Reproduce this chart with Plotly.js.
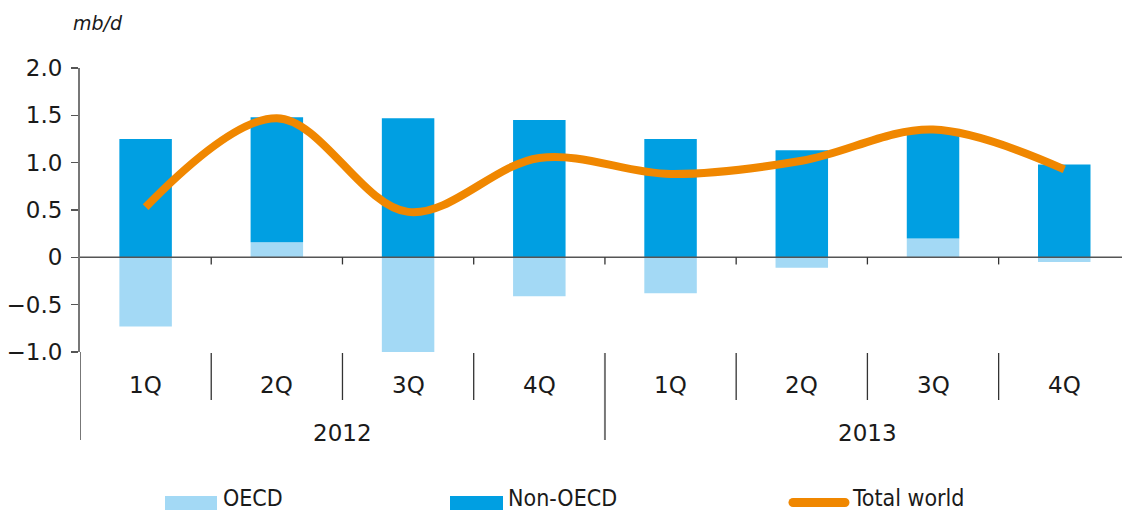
<!DOCTYPE html>
<html>
<head>
<meta charset="utf-8">
<script src="https://cdn.plot.ly/plotly-3.0.1.min.js"></script>
<style>html,body{margin:0;padding:0;background:#fff;}#chart{width:1122px;height:514px;}</style>
</head>
<body>
<div id="chart"></div>
<script>
// ---- data ----
const quarters = ['1Q','2Q','3Q','4Q','1Q','2Q','3Q','4Q'];
const years = ['2012','2013'];
const oecd = [-0.73, 0.16, -1.00, -0.41, -0.38, -0.11, 0.20, -0.05];
const nonOecd = [1.25, 1.32, 1.47, 1.45, 1.25, 1.13, 1.14, 0.98];
const totalWorld = [0.53, 1.47, 0.48, 1.05, 0.88, 1.02, 1.35, 0.93];
const yTickVals = [-1, -0.5, 0, 0.5, 1, 1.5, 2];
const yTickText = ['\u22121.0', '\u22120.5', '0', '0.5', '1.0', '1.5', '2.0'];
const seriesNames = ['OECD', 'Non-OECD', 'Total world'];

const xIdx = quarters.map((_, i) => i);
const C_OECD = '#a3d9f5', C_NON = '#009fe2', C_TOT = '#f08700';
const FONT = 'DejaVu Sans, Noto Sans, sans-serif';
const LFONT = 'DejaVu Sans Condensed, DejaVu Sans, Noto Sans, sans-serif';
const TXT = '#1a1a1a';

const traces = [
  {type:'bar', x:xIdx, y:oecd, name:seriesNames[0], marker:{color:C_OECD}, width:0.4, showlegend:false},
  {type:'bar', x:xIdx, y:nonOecd, name:seriesNames[1], marker:{color:C_NON}, width:0.4, showlegend:false},
  {type:'scatter', mode:'lines', x:xIdx, y:totalWorld, name:seriesNames[2], line:{color:C_TOT, width:8, shape:'spline', smoothing:1}, showlegend:false}
];

const plotH = 514 - 68 - 162;
const plotW = 1122 - 80;
const py = px => -(px - 352) / plotH;   // pixel row -> paper y
const pxX = px => (px - 80) / plotW;    // pixel column -> paper x

const shapes = [];
// zero line on top of bars
shapes.push({type:'line', xref:'paper', yref:'y', x0:0, x1:1, y0:0, y1:0, line:{color:'#555', width:1.5}, layer:'above'});
// ticks on zero line and dividers in label area
for (let i = 0; i < quarters.length - 1; i++) {
  const b = i + 0.5;
  shapes.push({type:'line', xref:'x', yref:'y', x0:b, x1:b, y0:0, y1:-0.075, line:{color:'#333', width:1.3}, layer:'above'});
  const isYear = (i + 1) % 4 === 0;
  shapes.push({type:'line', xref:'x', yref:'paper', x0:b, x1:b, y0:py(353), y1:isYear ? py(440) : py(400),
    line:{color:isYear ? '#777' : '#333', width:isYear ? 2 : 1.3}});
}
// left axis extension
shapes.push({type:'line', xref:'x', yref:'paper', x0:-0.5, x1:-0.5, y0:0, y1:py(440), line:{color:'#777', width:2}});

const annotations = [];
quarters.forEach((q, i) => annotations.push({xref:'x', yref:'paper', x:i, y:py(385), text:q, showarrow:false,
  yanchor:'middle', font:{family:FONT, size:23, color:TXT}}));
years.forEach((yr, k) => annotations.push({xref:'x', yref:'paper', x:k * 4 + 1.5, y:py(433), text:yr, showarrow:false,
  yanchor:'middle', font:{family:FONT, size:23, color:TXT}}));
annotations.push({xref:'paper', yref:'paper', x:pxX(71), y:1 + (68 - 23) / plotH, text:'<i>mb/d</i>',
  showarrow:false, xanchor:'left', yanchor:'middle', font:{family:FONT, size:19, color:TXT}});

// legend (swatches + labels)
const legendItems = [
  {name:seriesNames[0], color:C_OECD, kind:'box', x0:165, x1:217, tx:221},
  {name:seriesNames[1], color:C_NON, kind:'box', x0:450, x1:503, tx:506},
  {name:seriesNames[2], color:C_TOT, kind:'line', x0:793, x1:845, tx:850}
];
legendItems.forEach(it => {
  if (it.kind === 'box') {
    shapes.push({type:'rect', xref:'paper', yref:'paper', x0:pxX(it.x0), x1:pxX(it.x1), y0:py(496), y1:py(510),
      fillcolor:it.color, line:{width:0}});
  } else {
    shapes.push({type:'line', xref:'paper', yref:'paper', x0:pxX(it.x0), x1:pxX(it.x1), y0:py(502.5), y1:py(502.5),
      line:{color:it.color, width:9}});
    shapes.push({type:'circle', xref:'paper', yref:'paper', x0:pxX(it.x0 - 4.5), x1:pxX(it.x0 + 4.5), y0:py(498), y1:py(507),
      fillcolor:it.color, line:{width:0}});
    shapes.push({type:'circle', xref:'paper', yref:'paper', x0:pxX(it.x1 - 4.5), x1:pxX(it.x1 + 4.5), y0:py(498), y1:py(507),
      fillcolor:it.color, line:{width:0}});
  }
  annotations.push({xref:'paper', yref:'paper', x:pxX(it.tx), y:py(513), text:it.name, showarrow:false,
    xanchor:'left', yanchor:'bottom', font:{family:LFONT, size:23, color:TXT}});
});

const layout = {
  width:1122, height:514,
  margin:{l:80, r:0, t:68, b:162, pad:0},
  paper_bgcolor:'#fff', plot_bgcolor:'#fff',
  barmode:'relative',
  showlegend:false,
  font:{family:FONT, color:TXT},
  xaxis:{range:[-0.5, 7.44], showticklabels:false, showgrid:false, zeroline:false, showline:false, ticks:'', fixedrange:true},
  yaxis:{range:[-1, 2], tickvals:yTickVals, ticktext:yTickText, ticks:'outside', ticklen:7, tickcolor:'#555', tickwidth:1.3,
    showline:true, linecolor:'#777', linewidth:2, showgrid:false, zeroline:false, automargin:false,
    tickfont:{family:FONT, size:23, color:TXT}, ticklabelstandoff:4},
  shapes:shapes,
  annotations:annotations
};

Plotly.newPlot('chart', traces, layout, {displayModeBar:false, staticPlot:true});
</script>
</body>
</html>
